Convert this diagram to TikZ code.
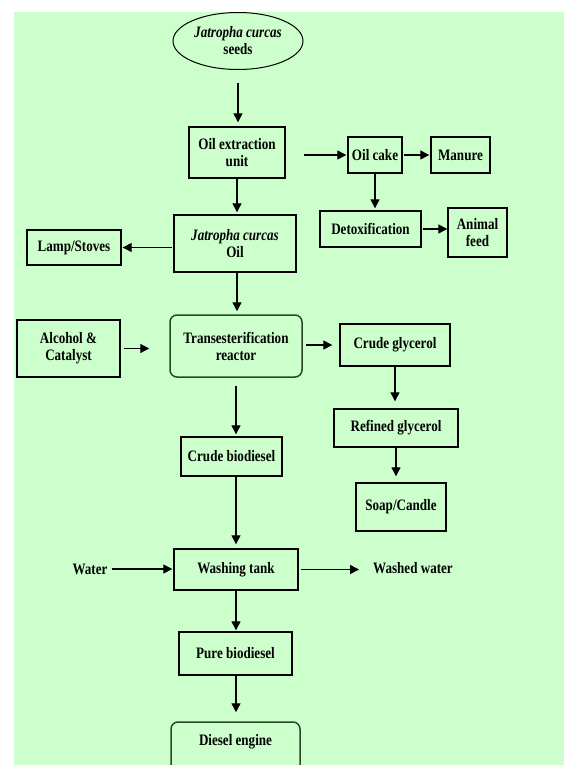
\documentclass[tikz,border=0pt]{standalone}
\usepackage{fontspec}
\setmainfont{Liberation Serif}[FakeStretch=0.82]
\usetikzlibrary{arrows.meta,shapes.geometric,calc}
\definecolor{bggreen}{RGB}{204,255,204}
\definecolor{edgegreen}{RGB}{40,70,40}
\begin{document}
\begin{tikzpicture}[x=1bp,y=-1bp,
  every node/.style={font=\fontsize{16}{17}\selectfont\bfseries, align=center, inner sep=0pt},
  box/.style={draw=black, line width=1.4bp, minimum width=#1},
  rbox/.style={draw=edgegreen, line width=1.5bp, rounded corners=7bp, minimum width=#1},
  flow/.style={draw=black, line width=1.3bp, -{Triangle[length=9bp,width=9bp]}},
  plain/.style={}]
\useasboundingbox (0,0) rectangle (564,765);
\fill[bggreen] (14,12) rectangle (564,765);
\begin{scope}
\clip (0,0) rectangle (564,765);
% nodes
\node[ellipse, draw=black, line width=1bp, minimum width=130bp, minimum height=57bp] (seeds) at (238,41) {\textit{Jatropha curcas}\\seeds};
\node[box=96bp, minimum height=51bp] (extract) at (237,152.5) {Oil extraction\\unit};
\node[box=54bp, minimum height=36bp] (cake) at (375,155) {Oil cake};
\node[box=59bp, minimum height=36bp] (manure) at (460.5,155) {Manure};
\node[box=101bp, minimum height=36bp] (detox) at (370.5,229) {Detoxification};
\node[box=59bp, minimum height=49bp] (feed) at (477.5,232.5) {Animal\\feed};
\node[box=122bp, minimum height=57bp] (oil) at (235,243.5) {\textit{Jatropha curcas}\\Oil};
\node[box=94bp, minimum height=35bp] (lamp) at (74,247.5) {Lamp/Stoves};
\node[rbox=132bp, minimum height=62bp] (trans) at (236,346) {Transesterification\\reactor};
\node[box=103bp, minimum height=57bp] (alcohol) at (68.5,348.5) {Alcohol \&\\Catalyst};
\node[box=110bp, minimum height=42bp] (cglyc) at (395,345) {Crude glycerol};
\node[box=124bp, minimum height=38bp] (rglyc) at (396,428) {Refined glycerol};
\node[box=90bp, minimum height=48bp] (soap) at (401,507) {Soap/Candle};
\node[box=101bp, minimum height=39bp] (cbio) at (231.5,456.5) {Crude biodiesel};
\node[box=124bp, minimum height=41bp] (wash) at (236,569.5) {Washing tank};
\node[plain] (water) at (90,569) {Water};
\node[plain] (washed) at (413,568) {Washed water};
\node[box=113bp, minimum height=43bp] (pure) at (235.5,653.5) {Pure biodiesel};
\node[rbox=129bp, minimum height=60bp, text depth=0pt] (engine) at (235.5,752) {\raisebox{24bp}{Diesel engine}};
% connectors
\draw[flow, shorten <=13bp, shorten >=4bp] (seeds.south) -- (seeds.south |- extract.north);
\draw[flow, shorten >=2bp] (extract.south) -- (extract.south |- oil.north);
\draw[flow, shorten <=18bp, shorten >=1bp] (extract.east |- cake.west) -- (cake.west);
\draw[flow, shorten <=1bp, shorten >=1bp] (cake.east) -- (manure.west);
\draw[flow, shorten >=2bp] (cake.south) -- (cake.south |- detox.north);
\draw[flow, shorten <=1bp, shorten >=0bp] (detox.east) -- (detox.east -| feed.west);
\draw[flow, shorten <=1bp, shorten >=1bp] (oil.west |- lamp.east) -- (lamp.east);
\draw[flow, shorten >=3bp] ([xshift=2bp]oil.south) -- ([xshift=2bp]oil.south |- trans.north);
\draw[flow, shorten <=3bp, shorten >=20bp] (alcohol.east) -- (alcohol.east -| trans.west);
\draw[flow, shorten <=3bp, shorten >=7bp] (trans.east |- cglyc.west) -- (cglyc.west);
\draw[flow, shorten >=7bp] (cglyc.south) -- (cglyc.south |- rglyc.north);
\draw[flow, shorten >=6bp] (rglyc.south) -- (rglyc.south |- soap.north);
\draw[flow, shorten <=8bp, shorten >=2bp] (trans.south) -- (trans.south |- cbio.north);
\draw[flow, shorten >=4bp] ([xshift=4.5bp]cbio.south) -- ([xshift=4.5bp]cbio.south |- wash.north);
\draw[flow, shorten <=4bp, shorten >=1bp] (water.east) -- (water.east -| wash.west);
\draw[flow, shorten <=2bp, shorten >=14bp] (wash.east) -- (wash.east -| washed.west);
\draw[flow, shorten >=1bp] (wash.south) -- (wash.south |- pure.north);
\draw[flow, shorten >=9bp] ([xshift=0.5bp]pure.south) -- ([xshift=0.5bp]pure.south |- engine.north);
\end{scope}
\end{tikzpicture}
\end{document}
